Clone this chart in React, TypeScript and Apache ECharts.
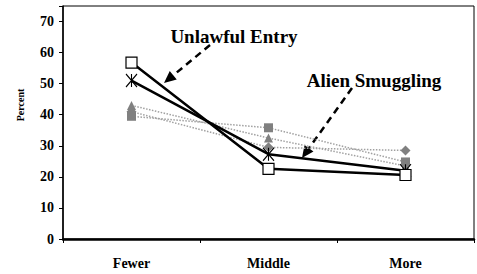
import React, { useEffect, useRef } from "react";
import * as echarts from "echarts";

const categories = ["Fewer", "Middle", "More"];
const unlawfulEntry = [56.8, 22.6, 20.6];
const alienSmuggling = [51, 27.3, 22];
const grayDiamond = [41, 29.5, 28.5];
const graySquare = [39.5, 35.8, 24.8];
const grayTriangle = [43, 32.5, 23.5];
const yTicks = [0, 10, 20, 30, 40, 50, 60, 70];

const FONT = "Liberation Serif";

function arrow(x1: number, y1: number, tx: number, ty: number) {
  const dx = tx - x1, dy = ty - y1;
  const len = Math.sqrt(dx * dx + dy * dy);
  const ux = dx / len, uy = dy / len;
  const hl = 12, hw = 5.5;
  const bx = tx - ux * hl, by = ty - uy * hl;
  const px = -uy * hw, py = ux * hw;
  return [
    {
      type: "line",
      shape: { x1, y1, x2: bx, y2: by },
      style: { stroke: "#000", lineWidth: 2.5, lineDash: [7, 5] },
    },
    {
      type: "polygon",
      shape: { points: [[tx, ty], [bx + px, by + py], [bx - px, by - py]] },
      style: { fill: "#000" },
    },
  ];
}

export default function App() {
  const ref = useRef<HTMLDivElement>(null);
  useEffect(() => {
    const chart = echarts.init(ref.current!, null, { renderer: "svg" });
    const gray = (name: string, data: number[], symbol: string, size: number) => ({
      name,
      type: "line",
      data,
      symbol,
      symbolSize: size,
      lineStyle: { color: "#a0a0a0", width: 1.5, type: "dotted" },
      itemStyle: { color: "#808080" },
      z: 2,
    });
    chart.setOption({
      animation: false,
      backgroundColor: "#fff",
      grid: {
        left: 63, right: 3, top: 6, bottom: 35,
        show: true, borderColor: "#000", borderWidth: 1,
      },
      xAxis: {
        type: "category",
        data: categories,
        boundaryGap: true,
        axisLine: { lineStyle: { color: "#000", width: 2.5 } },
        axisTick: { show: true, length: 4, lineStyle: { color: "#000" } },
        axisLabel: {
          margin: 17,
          fontFamily: FONT, fontWeight: "bold", fontSize: 14, color: "#000",
        },
        splitLine: { show: false },
      },
      yAxis: {
        type: "value",
        min: 0, max: 75, interval: 10,
        axisLine: { show: true, lineStyle: { color: "#000", width: 1.5 } },
        axisTick: { show: true, length: 4, lineStyle: { color: "#000" } },
        axisLabel: {
          margin: 9,
          fontFamily: FONT, fontWeight: "bold", fontSize: 14, color: "#000",
          formatter: (v: number) => (yTicks.includes(v) ? String(v) : ""),
        },
        splitLine: { show: false },
      },
      series: [
        gray("Series 3", grayDiamond, "diamond", 10),
        gray("Series 4", graySquare, "rect", 9),
        gray("Series 5", grayTriangle, "triangle", 9),
        {
          name: "Alien Smuggling",
          type: "line",
          data: alienSmuggling,
          symbol: "path://M0,0L10,12M10,0L0,12M5,0L5,12",
          symbolSize: [11, 13],
          lineStyle: { color: "#000", width: 2.5 },
          itemStyle: { color: "none", borderColor: "#000", borderWidth: 1.2 },
          z: 3,
        },
        {
          name: "Unlawful Entry",
          type: "line",
          data: unlawfulEntry,
          symbol: "rect",
          symbolSize: 11,
          lineStyle: { color: "#000", width: 2.5 },
          itemStyle: { color: "#fff", borderColor: "#000", borderWidth: 1.2 },
          z: 4,
        },
      ],
      graphic: [
        {
          type: "text",
          x: 20, y: 105, rotation: Math.PI / 2,
          style: {
            text: "Percent", fontFamily: FONT, fontWeight: "bold", fontSize: 10,
            fill: "#000", align: "center", verticalAlign: "middle",
          },
        },
        {
          type: "text",
          x: 234, y: 36,
          style: {
            text: "Unlawful Entry", fontFamily: FONT, fontWeight: "bold", fontSize: 19,
            fill: "#000", align: "center", verticalAlign: "middle",
          },
        },
        {
          type: "text",
          x: 374, y: 80,
          style: {
            text: "Alien Smuggling", fontFamily: FONT, fontWeight: "bold", fontSize: 19,
            fill: "#000", align: "center", verticalAlign: "middle",
          },
        },
        ...arrow(210, 45, 164, 83),
        ...arrow(352, 88, 302, 158),
      ],
    });
    return () => chart.dispose();
  }, []);
  return <div ref={ref} style={{ width: 477, height: 274, position: "absolute", left: 0, top: 0 }} />;
}
